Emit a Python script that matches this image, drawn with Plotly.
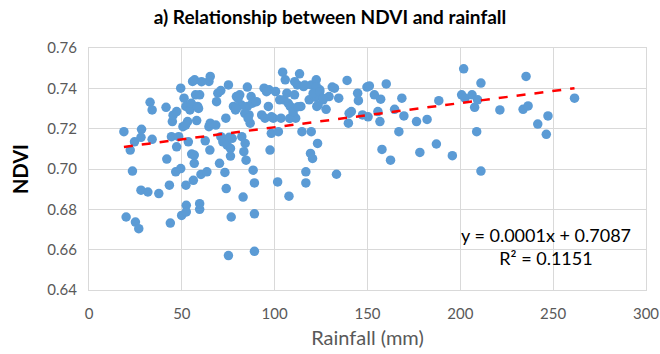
import numpy as np
import plotly.graph_objects as go

# Monthly rainfall (mm) and matching NDVI readings
rainfall = [
    18.8, 20.0, 22.2, 23.4, 24.5, 25.0, 26.8, 28.3, 28.0, 28.0,
    31.7, 32.9, 34.0, 34.0, 37.6, 41.5, 41.9, 43.3, 43.8, 44.4,
    44.9, 46.7, 47.2, 47.2, 48.3, 49.4, 49.4, 49.9, 50.6, 51.2,
    52.2, 52.2, 52.4, 52.4, 53.1, 53.5, 54.4, 55.1, 55.3, 55.8,
    56.2, 56.7, 56.7, 56.9, 57.4, 58.0, 58.5, 59.0, 59.6, 59.6,
    59.6, 60.3, 62.6, 63.5, 64.6, 64.6, 65.1, 65.3, 65.3, 68.3,
    68.7, 69.4, 70.3, 71.0, 71.0, 72.1, 73.2, 73.7, 73.9, 74.4,
    75.1, 75.1, 75.5, 76.2, 76.2, 76.6, 77.1, 77.8, 78.9, 79.4,
    80.3, 81.2, 82.3, 83.0, 83.4, 84.1, 84.6, 85.3, 85.3, 86.2,
    86.8, 87.3, 88.0, 88.4, 89.1, 89.1, 89.1, 90.2, 93.0, 94.3,
    94.8, 96.6, 97.0, 97.5, 98.2, 99.3, 100.5, 101.6, 102.0, 102.7,
    103.4, 104.3, 105.0, 105.7, 106.6, 107.3, 107.7, 108.4, 110.0, 110.7,
    111.3, 112.2, 113.4, 114.1, 114.7, 115.6, 116.8, 116.8, 118.6, 119.3,
    119.7, 119.7, 120.4, 121.9, 122.4, 122.7, 123.1, 124.3, 126.1, 127.7,
    129.3, 131.0, 132.2, 133.3, 134.5, 139.0, 139.7, 140.1, 141.3, 144.7,
    145.1, 147.3, 149.7, 151.0, 153.7, 155.6, 156.7, 157.1, 157.8, 160.1,
    162.4, 164.6, 166.9, 168.5, 169.6, 176.4, 178.2, 182.1, 187.1, 188.4,
    195.7, 200.7, 201.8, 202.5, 206.3, 207.7, 209.3, 208.8, 211.1, 211.1,
    221.3, 233.8, 235.4, 236.5, 241.7, 246.3, 247.2, 261.5,
    45.3, 52.0, 82.1, 83.9, 95.6, 98.3, 108.1, 110.8, 116.2, 122.5,
    120.7, 124.3, 123.4, 126.1, 109.9, 112.6, 150.3, 60.6, 85.7, 79.4,
]
ndvi = [
    0.7185, 0.6762, 0.7094, 0.6990, 0.7135, 0.6737, 0.6704, 0.7197, 0.7157, 0.6895,
    0.6886, 0.7331, 0.7293, 0.7147, 0.6878, 0.7306, 0.7049, 0.6920, 0.6732, 0.7160,
    0.7235, 0.6986, 0.7110, 0.7285, 0.7160, 0.7401, 0.7002, 0.6770, 0.7210, 0.7351,
    0.7310, 0.6920, 0.6820, 0.6787, 0.7235, 0.7135, 0.7293, 0.7326, 0.7074, 0.7434,
    0.6944, 0.7028, 0.7069, 0.7442, 0.7368, 0.7240, 0.7310, 0.7300, 0.7368, 0.6828,
    0.6800, 0.6973, 0.7140, 0.6986, 0.7434, 0.7210, 0.7094, 0.7459, 0.7227, 0.7218,
    0.7334, 0.7376, 0.7028, 0.7389, 0.7160, 0.7135, 0.6983, 0.7252, 0.6903, 0.7118,
    0.7417, 0.6571, 0.7157, 0.7102, 0.7064, 0.6762, 0.7152, 0.7310, 0.7293, 0.7359,
    0.7349, 0.7368, 0.7160, 0.6861, 0.7086, 0.7127, 0.7044, 0.7310, 0.7406, 0.7268,
    0.7227, 0.7359, 0.7326, 0.6994, 0.6931, 0.6778, 0.6592, 0.7334, 0.7268, 0.7401,
    0.7252, 0.7310, 0.7393, 0.7094, 0.7177, 0.7252, 0.7384, 0.6936, 0.7185, 0.7343,
    0.7252, 0.7480, 0.7343, 0.7442, 0.7376, 0.7326, 0.6865, 0.7310, 0.7268, 0.7368,
    0.7252, 0.7417, 0.7472, 0.7310, 0.7185, 0.7409, 0.6986, 0.6931, 0.7343, 0.7077,
    0.7417, 0.7185, 0.7052, 0.7356, 0.7442, 0.7310, 0.7127, 0.7393, 0.7343, 0.7296,
    0.7359, 0.7406, 0.7401, 0.6974, 0.7351, 0.7439, 0.7227, 0.7276, 0.7285, 0.7376,
    0.7339, 0.7268, 0.7406, 0.7412, 0.7368, 0.7285, 0.7235, 0.7346, 0.7097, 0.7422,
    0.7044, 0.7296, 0.7185, 0.7351, 0.7263, 0.7235, 0.7082, 0.7246, 0.7124, 0.7339,
    0.7066, 0.7368, 0.7497, 0.7351, 0.7368, 0.7306, 0.7343, 0.7185, 0.7426, 0.6990,
    0.7293, 0.7296, 0.7459, 0.7313, 0.7223, 0.7172, 0.7263, 0.7351,
    0.7267, 0.7218, 0.7317, 0.7276, 0.7383, 0.7259, 0.7251, 0.7433, 0.7416, 0.7408,
    0.7375, 0.7383, 0.7317, 0.7350, 0.7284, 0.7309, 0.7259, 0.7433, 0.7251, 0.7300,
]

# Linear trend (y = slope * x + intercept) and its goodness of fit
trend_slope = 0.00012
trend_intercept = 0.7087
r_squared = 0.1151

x_ticks = [0, 50, 100, 150, 200, 250, 300]
y_ticks = [0.64, 0.66, 0.68, 0.70, 0.72, 0.74, 0.76]

FONT = "Lato"
GRID = "#d9d9d9"
TICK_COLOR = "#595959"

fig = go.Figure()

fig.add_trace(go.Scatter(
    x=rainfall, y=ndvi, mode="markers",
    marker=dict(color="#5B9BD5", size=9.5, line=dict(width=0)),
    showlegend=False,
))

x_line = np.array([min(rainfall), max(rainfall)])
fig.add_trace(go.Scatter(
    x=x_line, y=trend_slope * x_line + trend_intercept, mode="lines",
    line=dict(color="#FF0000", width=2.5, dash="dash"),
    showlegend=False,
))

fig.add_annotation(
    x=0.821, y=0.178, xref="paper", yref="paper",
    xanchor="center", yanchor="middle",
    text=f"y = {trend_slope:.4f}x + {trend_intercept:.4f}<br>R² = {r_squared:.4f}",
    showarrow=False, align="center",
    font=dict(family=FONT, size=18, color="#000000"),
)

fig.update_layout(
    width=660, height=354,
    margin=dict(l=89, r=14, t=48, b=64, autoexpand=False),
    paper_bgcolor="white", plot_bgcolor="white",
    title=dict(
        text="<b>a) Relationship between NDVI and rainfall</b>",
        x=0.5, xanchor="center", y=0.952, yanchor="middle",
        font=dict(family=FONT, size=19, color="#000000"),
    ),
    xaxis=dict(
        range=[0, 300], tickvals=x_ticks, automargin=False,
        showgrid=True, gridcolor=GRID, gridwidth=1,
        showline=True, linecolor=GRID, linewidth=1, mirror=True,
        zeroline=False, ticks="", ticklabelstandoff=10,
        tickfont=dict(family=FONT, size=15, color=TICK_COLOR),
        title=dict(text="Rainfall (mm)", standoff=9,
                   font=dict(family=FONT, size=20, color=TICK_COLOR)),
    ),
    yaxis=dict(
        range=[0.64, 0.76], tickvals=y_ticks, tickformat=".2f", automargin=False,
        showgrid=True, gridcolor=GRID, gridwidth=1,
        showline=True, linecolor=GRID, linewidth=1, mirror=True,
        zeroline=False, ticks="", ticklabelstandoff=8,
        tickfont=dict(family=FONT, size=15, color=TICK_COLOR),
        title=dict(text="<b>NDVI</b>", standoff=13,
                   font=dict(family=FONT, size=20, color="#000000")),
    ),
)

fig.write_html("out.html")
